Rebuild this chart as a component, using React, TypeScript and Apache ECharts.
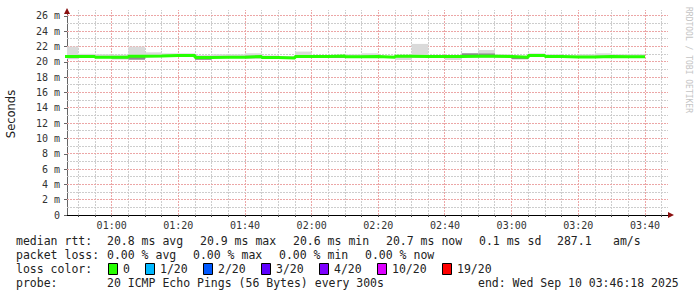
import React, { useEffect, useRef } from "react";
import * as echarts from "echarts";

// x values: minutes after 00:00 (Wed Sep 10 2025); each step covers the 5 minutes before its end time
const stepEnds = [50, 55, 60, 65, 70, 75, 80, 85, 90, 95, 100, 105, 110, 115, 120, 125, 130, 135, 140, 145, 150, 155, 160, 165, 170, 175, 180, 185, 190, 195, 200, 205, 210, 215, 220];
// median rtt per step (ms)
const medianRtt = [20.69, 20.71, 20.6, 20.6, 20.75, 20.77, 20.82, 20.82, 20.56, 20.62, 20.62, 20.71, 20.56, 20.5, 20.71, 20.71, 20.77, 20.67, 20.69, 20.62, 20.73, 20.69, 20.69, 20.69, 20.73, 20.73, 20.69, 20.6, 20.82, 20.69, 20.65, 20.65, 20.71, 20.67, 20.67];
// smoke: full ping spread (light) and core spread (dark), ms
const smokeHi = [22.0, 21.05, 21.0, 20.95, 22.0, 21.25, 21.12, 21.12, 20.9, 21.0, 21.0, 21.12, 20.85, 20.75, 21.35, 20.9, 20.9, 21.0, 21.12, 20.8, 20.85, 22.35, 20.85, 20.85, 21.12, 21.55, 21.0, 20.8, 21.12, 21.0, 20.85, 21.0, 21.12, 21.0, 21.0];
const smokeLo = [20.35, 20.6, 20.5, 20.3, 20.25, 20.6, 20.65, 20.7, 20.25, 20.5, 20.5, 20.47, 20.45, 20.4, 20.5, 20.6, 20.5, 20.55, 20.6, 20.5, 20.25, 20.55, 20.55, 20.25, 20.6, 20.6, 20.6, 20.34, 20.7, 20.6, 20.55, 20.55, 20.55, 20.55, 20.55];
const coreHi = [20.8, 20.8, 20.7, 20.7, 20.85, 20.9, 20.9, 20.9, 20.68, 20.72, 20.72, 20.8, 20.65, 20.6, 20.85, 20.8, 20.85, 20.78, 20.8, 20.72, 20.82, 20.8, 20.78, 20.78, 21.12, 21.1, 20.78, 20.7, 20.9, 20.78, 20.75, 20.75, 20.8, 20.77, 20.77];
const coreLo = [20.5, 20.58, 20.5, 20.45, 20.3, 20.68, 20.72, 20.72, 20.28, 20.52, 20.52, 20.48, 20.46, 20.42, 20.52, 20.62, 20.52, 20.55, 20.6, 20.52, 20.62, 20.6, 20.6, 20.6, 20.62, 20.62, 20.6, 20.36, 20.72, 20.6, 20.56, 20.56, 20.55, 20.56, 20.56];

const xMajor = [60, 80, 100, 120, 140, 160, 180, 200, 220];
const xTickLabels = ["01:00", "01:20", "01:40", "02:00", "02:20", "02:40", "03:00", "03:20", "03:40"];
const xMinor = [50, 55, 65, 70, 75, 85, 90, 95, 105, 110, 115, 125, 130, 135, 145, 150, 155, 165, 170, 175, 185, 190, 195, 205, 210, 215, 225];
const xTicks = [50, 55, 60, 65, 70, 75, 80, 85, 90, 95, 100, 105, 110, 115, 120, 125, 130, 135, 140, 145, 150, 155, 160, 165, 170, 175, 180, 185, 190, 195, 200, 205, 210, 215, 220, 225];
const yMajor = [0, 2, 4, 6, 8, 10, 12, 14, 16, 18, 20, 22, 24, 26];
const yTickLabels = ["0", "2 m", "4 m", "6 m", "8 m", "10 m", "12 m", "14 m", "16 m", "18 m", "20 m", "22 m", "24 m", "26 m"];
const yMinor = [1, 3, 5, 7, 9, 11, 13, 15, 17, 19, 21, 23, 25];

const rttStats = ["20.8 ms avg", "20.9 ms max", "20.6 ms min", "20.7 ms now", "0.1 ms sd", "287.1", "am/s"];
const lossStats = ["0.00 % avg", "0.00 % max", "0.00 % min", "0.00 % now"];
const lossLabels = ["0", "1/20", "2/20", "3/20", "4/20", "10/20", "19/20"];
const lossColors = ["#26ff00", "#00b8ff", "#0059ff", "#5e00ff", "#7e00ff", "#dd00ff", "#ff0000"];
const probeText = "20 ICMP Echo Pings (56 Bytes) every 300s";
const endText = "end: Wed Sep 10 03:46:18 2025";

const X_MIN = 46.6;
const X_MAX = 226.9;
const Y_MAX = 26.78;
const STEP = 5;

const rttX = [107, 200, 293, 386, 479, 557, 613];
const lossX = [107, 193, 279, 365];
const boxX = [108, 145, 203, 261, 319, 377, 442];

const MONO = '"DejaVu Sans Mono", monospace';
const MINOR_COLOR = "#cdcdcd";
const MAJOR_COLOR = "#eca6a6";
const DASH = [2, 1];

export default function App() {
  const ref = useRef<HTMLDivElement>(null);
  useEffect(() => {
    if (!ref.current) return;
    const chart = echarts.init(ref.current, undefined, { renderer: "svg" });

    const crisp = (v: number) => Math.round(v - 0.5) + 0.5;

    const vGridData = [...xMinor.map((v) => [v, 0]), ...xMajor.map((v) => [v, 1])];
    const hGridData = [...yMinor.map((v) => [v, 0]), ...yMajor.filter((v) => v > 0).map((v) => [v, 1])];

    const smokeData = stepEnds.map((t, i) => [t, smokeLo[i], smokeHi[i], coreLo[i], coreHi[i]]);
    const medianData = [[stepEnds[0] - STEP, medianRtt[0]], ...stepEnds.map((t, i) => [t, medianRtt[i]])];

    const txt = (x: number, y: number, text: string, extra: any = {}) => ({
      type: "text",
      x,
      y,
      silent: true,
      style: { text, font: `11.5px ${MONO}`, fill: "#222", align: "left", verticalAlign: "middle", ...extra },
    });

    const graphic: any[] = [
      {
        type: "text",
        x: 11,
        y: 114,
        rotation: Math.PI / 2,
        silent: true,
        style: { text: "Seconds", font: '11.5px "DejaVu Sans"', fill: "#222", align: "center", verticalAlign: "middle" },
      },
      {
        type: "text",
        x: 688,
        y: 60,
        rotation: -Math.PI / 2,
        silent: true,
        style: { text: "RRDTOOL / TOBI OETIKER", font: `8px ${MONO}`, fill: "#c4c4c4", align: "center", verticalAlign: "middle" },
      },
      { type: "polygon", silent: true, z: 100, shape: { points: [[64, 14], [67, 8], [70, 14]] }, style: { fill: "#8b1010" } },
      { type: "polygon", silent: true, z: 100, shape: { points: [[668, 212], [674, 215], [668, 218]] }, style: { fill: "#8b1010" } },
      txt(16, 241, "median rtt:"),
      ...rttStats.map((s, i) => txt(rttX[i], 241, s)),
      txt(16, 255, "packet loss:"),
      ...lossStats.map((s, i) => txt(lossX[i], 255, s)),
      txt(16, 269, "loss color:"),
      ...lossLabels.map((s, i) => txt(boxX[i] + 15, 269, s)),
      ...lossColors.map((c, i) => ({
        type: "rect",
        silent: true,
        shape: { x: boxX[i] + 0.5, y: 263.5, width: 9, height: 11 },
        style: { fill: c, stroke: "#000", lineWidth: 1 },
      })),
      txt(16, 283, "probe:"),
      txt(107, 283, probeText),
      txt(478, 283, endText),
    ];

    const option: any = {
      animation: false,
      backgroundColor: "#ffffff",
      grid: { left: 67, right: 29, top: 10, bottom: 82, containLabel: false },
      xAxis: {
        type: "value",
        min: X_MIN,
        max: X_MAX,
        splitLine: { show: false },
        axisLine: { show: true, onZero: false, lineStyle: { color: "#000", width: 1 } },
        axisTick: { show: true, customValues: xTicks, length: 2, lineStyle: { color: "#444" } },
        axisLabel: {
          show: true,
          customValues: xMajor,
          formatter: (v: number) => {
            const i = xMajor.indexOf(Math.round(v));
            return i >= 0 ? xTickLabels[i] : "";
          },
          margin: 5,
          fontFamily: MONO,
          fontSize: 10,
          color: "#333",
        },
      },
      yAxis: {
        type: "value",
        min: 0,
        max: Y_MAX,
        splitLine: { show: false },
        axisLine: { show: true, onZero: false, lineStyle: { color: "#666", width: 1 } },
        axisTick: { show: true, customValues: yMajor, length: 3, lineStyle: { color: "#666" } },
        axisLabel: {
          show: true,
          customValues: yMajor,
          formatter: (v: number) => {
            const i = yMajor.indexOf(Math.round(v));
            return i >= 0 ? yTickLabels[i] : "";
          },
          margin: 7,
          fontFamily: MONO,
          fontSize: 10,
          color: "#333",
        },
      },
      graphic,
      series: [
        {
          type: "custom",
          z: 1,
          silent: true,
          data: vGridData,
          encode: { x: 0 },
          renderItem: (params: any, api: any) => {
            const v = api.value(0);
            const major = api.value(1) === 1;
            const a = api.coord([v, 0]);
            const b = api.coord([v, Y_MAX]);
            const x = crisp(a[0]);
            return {
              type: "line",
              shape: { x1: x, y1: Math.round(a[1]), x2: x, y2: Math.round(b[1]) },
              style: { stroke: major ? MAJOR_COLOR : MINOR_COLOR, lineWidth: 1, lineDash: DASH },
            };
          },
        },
        {
          type: "custom",
          z: 1,
          silent: true,
          data: hGridData,
          encode: { y: 0 },
          renderItem: (params: any, api: any) => {
            const v = api.value(0);
            const major = api.value(1) === 1;
            const a = api.coord([X_MIN, v]);
            const b = api.coord([X_MAX, v]);
            const y = crisp(a[1]);
            return {
              type: "line",
              shape: { x1: Math.round(a[0]), y1: y, x2: Math.round(b[0]), y2: y },
              style: { stroke: major ? MAJOR_COLOR : MINOR_COLOR, lineWidth: 1, lineDash: DASH },
            };
          },
        },
        {
          type: "custom",
          z: 2,
          silent: true,
          data: smokeData,
          encode: { x: 0, y: [1, 2] },
          renderItem: (params: any, api: any) => {
            const t = api.value(0);
            const cs = params.coordSys;
            const clipBox = { x: cs.x, y: cs.y, width: cs.width, height: cs.height };
            const mk = (lo: number, hi: number) => {
              const a = api.coord([t - STEP, hi]);
              const b = api.coord([t, lo]);
              return echarts.graphic.clipRectByRect(
                { x: a[0], y: a[1], width: b[0] - a[0], height: b[1] - a[1] },
                clipBox
              );
            };
            const outer = mk(api.value(1), api.value(2));
            const inner = mk(api.value(3), api.value(4));
            const children: any[] = [];
            if (outer) children.push({ type: "rect", shape: outer, style: { fill: "#dadada" } });
            if (inner) children.push({ type: "rect", shape: inner, style: { fill: "#8c8c8c" } });
            return { type: "group", children };
          },
        },
        {
          type: "line",
          z: 3,
          silent: true,
          step: "start",
          data: medianData,
          showSymbol: false,
          symbol: "none",
          clip: true,
          lineStyle: { color: "#26ff00", width: 3 },
        },
      ],
    };
    chart.setOption(option);
    return () => chart.dispose();
  }, []);

  return (
    <div
      ref={ref}
      style={{ position: "fixed", left: 0, top: 0, width: 697, height: 297, background: "#fff" }}
    />
  );
}
